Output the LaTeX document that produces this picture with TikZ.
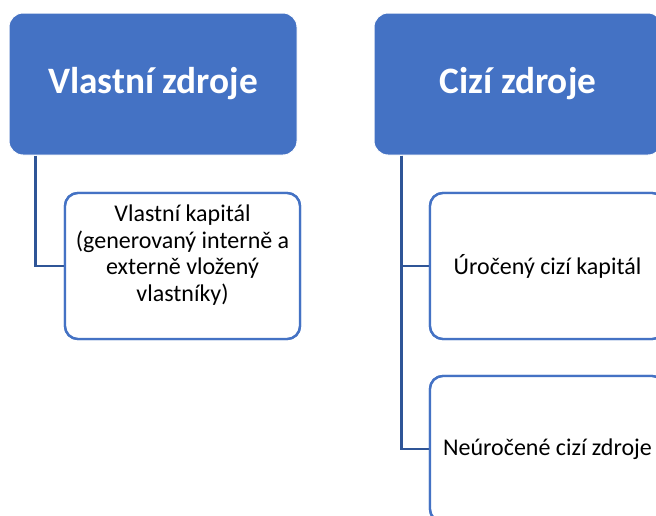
\documentclass[tikz,border=0pt]{standalone}
\usepackage{fontspec}
\setmainfont{Carlito}
\definecolor{hdr}{HTML}{4472C4}
\definecolor{conn}{HTML}{2F5597}
\begin{document}
\begin{tikzpicture}[x=1pt,y=-1pt,
  header/.style={rectangle, rounded corners=14pt, fill=hdr, draw=white, line width=1pt,
    minimum width=288pt, minimum height=142pt, inner sep=0pt,
    text=white, font=\fontsize{37.3}{44}\selectfont\bfseries},
  child/.style={rectangle, rounded corners=13pt, fill=white, draw=hdr, line width=2.4pt,
    minimum width=235pt, minimum height=146pt, inner sep=0pt},
  childtext/.style={align=center, inner sep=0pt, font=\fontsize{24}{26.5}\selectfont},
  link/.style={draw=conn, line width=2.6pt}]
\useasboundingbox (0,0) rectangle (656,515);
\clip (0,0) rectangle (656,515);
\node[header] (lh) at (153,84) {Vlastní zdroje};
\node[header] (rh) at (518,84) {Cizí zdroje};
\coordinate (lj) at ([xshift=27pt]lh.south west);
\coordinate (rj) at ([xshift=28pt]rh.south west);
\node[child] (lc) at (182.5,266) {};
\node[child] (rc1) at (547.5,266) {};
\node[child] (rc2) at (547.5,449) {};
\draw[link] (lj) |- (lc.west);
\draw[link] (rj) |- (rc1.west);
\draw[link] (rj) |- (rc2.west);
\node[child] at (lc) {};
\node[child] at (rc1) {};
\node[child] at (rc2) {};
\node[childtext] (lct) at ([yshift=11pt]lc.center) {Vlastní kapitál\\(generovaný interně a\\externě vložený\\vlastníky)};
\node[childtext] (rc1t) at (rc1.center) {Úročený cizí kapitál};
\node[childtext] (rc2t) at (rc2.center) {Neúročené cizí zdroje};
\end{tikzpicture}
\end{document}
